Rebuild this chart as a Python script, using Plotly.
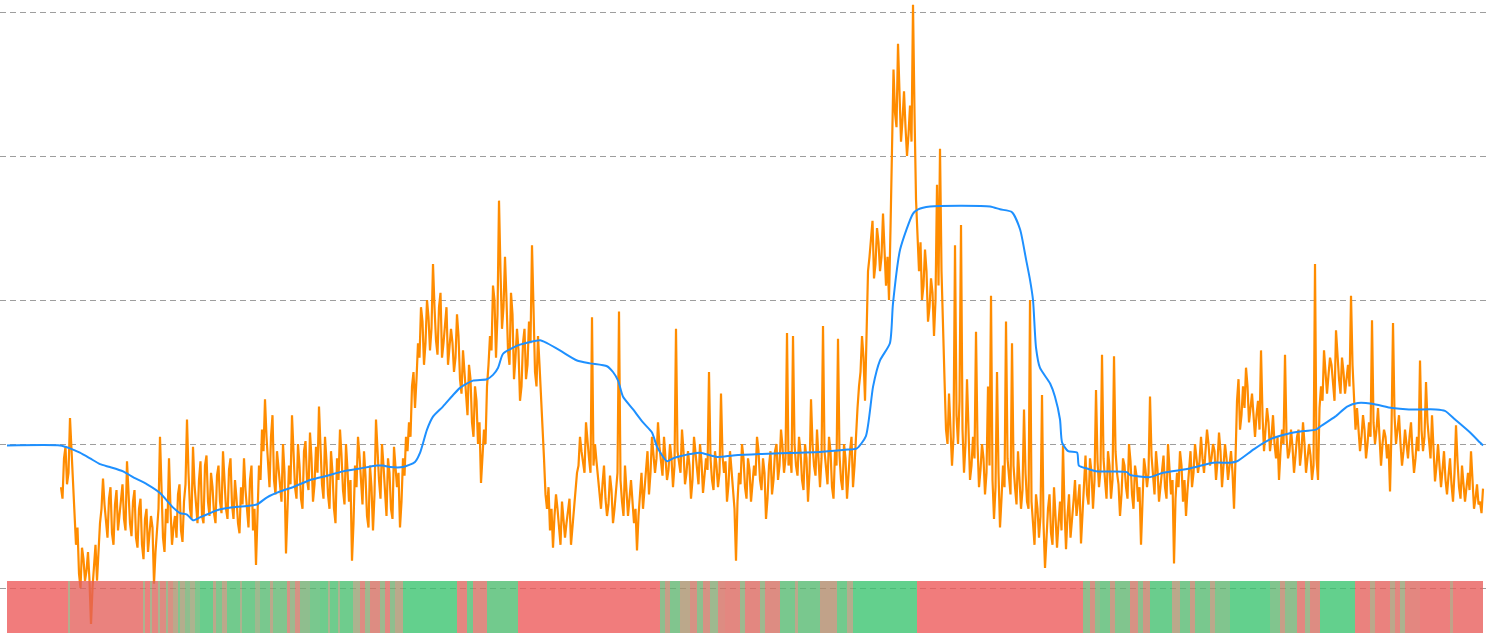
import plotly.graph_objects as go

# ---- data -------------------------------------------------------------
# orange series: one sample per whole step, starting at step 18
orange_start = 18
orange_vals = [
    0.70, 0.90, 0.72, 1.18, 0.70, 0.30, 0.10, 0.28, 0.05, 0.25,
    -0.25, 0.18, 0.05, 0.45, 0.76, 0.45, 0.62, 0.38, 0.58, 0.40,
    0.66, 0.48, 0.88, 0.45, 0.60, 0.35, 0.55, 0.30, 0.48, 0.25,
    0.50, 0.03, 0.38, 1.05, 0.35, 0.55, 0.90, 0.30, 0.50, 0.65,
    0.40, 0.60, 1.17, 0.55, 0.98, 0.55, 0.75, 0.50, 0.85, 0.60,
    0.80, 0.52, 0.78, 0.60, 0.95, 0.55, 0.82, 0.58, 0.75, 0.45,
    0.70, 0.90, 0.55, 0.75, 0.40, 0.16, 0.85, 1.10, 1.31, 0.85,
    1.05, 0.75, 0.95,
    # t91
    0.70, 1.00, 0.24, 0.85, 1.20, 0.70, 1.00, 0.62, 0.95, 0.75,
    1.08, 0.60, 0.98, 1.26, 0.72, 1.05, 0.65, 0.95, 0.55, 0.90,
    1.10, 0.68, 1.00, 0.60, 0.19, 0.85, 1.05, 0.70, 0.95, 0.50,
    0.85, 0.40, 1.17, 0.75, 1.00, 0.62, 0.90, 0.55, 0.98, 0.70,
    0.42, 0.90, 1.05,
    # t134
    1.15, 1.40, 1.25, 1.70, 1.95, 1.55, 2.00, 1.65, 2.25, 1.72,
    1.95, 1.60, 1.85, 1.55, 1.80, 1.50, 1.90, 1.45, 1.65, 1.30,
    1.55, 1.15, 1.40, 1.00, 0.73, 1.10, 1.40, 1.75, 2.10, 1.60,
    2.69, 1.80, 2.30, 1.65, 2.05, 1.45, 1.80, 1.30, 1.70, 1.45,
    1.85, 2.38, 1.50, 1.75, 1.35,
    # t179
    0.90, 0.55, 0.40, 0.28, 0.65, 0.40, 0.60, 0.35, 0.55, 0.30,
    0.50, 0.80, 1.05, 0.85, 1.15, 0.90, 1.88, 1.00, 0.75,
    # t198
    0.55, 0.85, 0.50, 0.78, 0.45, 0.70, 1.92, 0.60, 0.85, 0.50,
    0.75, 0.45, 0.26, 0.70, 0.55, 0.85, 0.65, 1.05, 0.80, 1.15,
    0.85, 1.05, 0.75, 1.00, 0.70, 1.80, 0.85, 1.10, 0.72, 0.95,
    0.62, 1.05, 0.80, 1.00, 0.66, 0.90, 1.50, 0.75, 0.95, 0.70,
    1.35, 0.80, 0.60, 0.95, 0.65, 0.19, 0.80, 1.00, 0.70, 0.90,
    0.60, 0.85, 1.05, 0.75, 0.90, 0.48, 0.85, 0.65, 0.95, 0.75,
    1.10, 0.80, 1.77, 0.95, 1.75, 0.85, 1.05, 0.75, 1.00, 0.60,
    1.31, 0.85, 1.10,
    # t271
    0.70, 1.82, 0.80, 1.05, 0.70, 0.95, 1.73, 0.75, 1.00, 0.62,
    0.95, 0.70, 1.10, 1.40, 1.75, 1.30, 2.20, 2.45, 2.15, 2.50,
    2.20, 2.60, 2.10, 2.00, 2.95, 3.30, 3.78, 3.10, 3.45, 3.00,
    3.35, 4.05, 2.70, 2.20, 2.00, 2.35, 1.85, 2.15, 1.75, 2.80,
    3.05, 1.70, 1.10, 1.35, 0.85, 2.38, 1.00, 2.52, 0.80, 1.45,
    0.75, 1.05, 1.78, 0.70, 1.00, 0.65, 1.40, 2.03, 0.48, 1.50,
    0.42, 0.85, 1.85, 0.75, 1.70, 0.70, 0.95, 0.55, 1.24, 0.60,
    2.00,
    # t342
    0.45, 0.65, 0.35, 1.34, 0.14, 0.55, 0.38, 0.70, 0.28, 0.60,
    0.99, 0.27, 0.65, 0.45, 0.75,
    # t357
    0.60, 0.31, 0.80, 0.65, 0.90, 0.55, 1.375, 0.70, 1.62, 0.75,
    0.95, 0.62, 1.61, 0.80, 0.50, 0.90, 0.70, 1.00, 0.65, 0.85,
    0.60, 0.30, 0.90, 0.70, 1.33, 0.75, 0.95, 0.60, 0.85, 0.70,
    1.00, 0.65, 0.17, 0.80, 0.95, 0.60, 0.50, 0.85, 0.70, 1.00,
    0.80,
    # t398
    1.05, 0.80, 1.10, 0.85, 1.00, 0.75, 1.08, 0.70, 1.00, 0.75,
    0.95, 0.55, 1.30, 1.10, 1.40, 1.53, 1.15, 1.35, 1.05, 1.30,
    1.65, 0.95, 1.25, 0.95, 1.20, 0.90, 0.75, 1.10, 1.62, 0.90,
    1.10, 0.80, 1.05, 0.85, 1.15, 0.80, 1.00, 0.75, 2.25, 0.75,
    # t438
    1.40, 1.65, 1.35, 1.60, 1.40, 1.79, 1.45, 1.60, 1.35, 1.55,
    2.03, 1.30, 1.25, 0.95, 1.20, 0.90, 1.15, 1.86, 1.00, 1.25,
    0.85, 1.10, 0.90, 0.67, 1.84, 1.00, 1.20, 0.85, 1.10, 0.90,
    1.15, 0.80, 1.05, 1.58, 0.95, 1.43, 1.00, 1.20, 0.74, 1.00,
    # t478
    0.70, 0.95, 0.65, 0.90, 0.60, 1.13, 0.70, 0.85, 0.60, 0.80,
    0.95, 0.55, 0.72, 0.60, 0.69,
]

# orange samples taken half-way between the whole steps, in blocks
mid_starts = [18, 91, 134, 179, 198, 271, 342, 357, 398, 438, 478]
mid_a = [0.62, 0.98, 0.80, 0.95, 0.50, 0.42, 0.00, 0.20, 0.12, 0.05,
         0.00, 0.30, 0.28, 0.55, 0.58, 0.35, 0.70, 0.30, 0.68, 0.52,
         0.72, 0.40, 0.62, 0.36, 0.68, 0.28, 0.62, 0.20, 0.55, 0.38,
         0.42, 0.25, 0.55, 0.60, 0.25, 0.45, 0.55, 0.42, 0.35, 0.72,
         0.32, 0.72, 0.80, 0.48, 0.72, 0.45, 0.88, 0.45, 0.92, 0.50,
         0.70, 0.45, 0.85, 0.52, 0.70, 0.48, 0.90, 0.48, 0.62, 0.38,
         0.58, 0.68, 0.42, 0.85, 0.55, 0.50, 0.75, 0.95, 1.05, 0.70,
         1.20, 0.65, 0.85]
mid_b = [0.60, 0.80, 0.55, 0.72, 0.95, 0.62, 0.85, 0.55, 1.02, 0.68,
         0.90, 0.72, 0.80, 0.98, 0.62, 0.88, 0.55, 0.80, 0.45, 0.75,
         0.92, 0.58, 0.82, 0.75, 0.45, 0.70, 0.92, 0.58, 0.78, 0.42,
         0.70, 0.65, 0.90, 0.62, 0.85, 0.50, 0.80, 0.48, 0.85, 0.80,
         0.60, 0.78, 0.95]
mid_c = [1.05, 1.50, 1.45, 1.60, 1.85, 1.70, 1.88, 1.80, 1.95, 1.62,
         2.05, 1.70, 1.95, 1.65, 1.70, 1.60, 1.75, 1.35, 1.50, 1.20,
         1.45, 1.05, 1.30, 1.15, 0.90, 1.00, 1.55, 1.65, 2.00, 1.90,
         2.20, 1.95, 2.00, 1.55, 1.90, 1.60, 1.65, 1.40, 1.80, 1.55,
         1.70, 1.95, 1.40, 1.55, 1.20]
mid_d = [0.65, 0.70, 0.55, 0.50, 0.55, 0.30, 0.50, 0.45, 0.62, 0.42,
         0.65, 0.85, 0.95, 0.80, 1.00, 0.80, 0.85, 0.88, 0.65]
mid_e = [0.72, 0.62, 0.58, 0.68, 0.55, 0.80, 0.75, 0.50, 0.70, 0.62,
         0.60, 0.55, 0.50, 0.80, 0.70, 0.95, 0.80, 0.92, 0.90, 0.98,
         0.78, 0.90, 0.82, 0.90, 0.85, 0.95, 0.80, 0.95, 0.80, 0.85,
         0.75, 0.95, 0.72, 0.88, 0.78, 0.82, 0.90, 0.68, 0.85, 0.80,
         0.92, 0.88, 0.72, 0.82, 0.55, 0.60, 0.72, 0.90, 0.62, 0.82,
         0.70, 0.78, 0.95, 0.68, 0.80, 0.62, 0.95, 0.75, 1.00, 0.85,
         0.98, 0.90, 0.85, 0.80, 1.00, 0.78, 0.95, 0.68, 0.90, 0.80,
         1.00, 0.78, 0.90]
mid_f = [0.90, 0.95, 0.72, 0.95, 0.62, 0.85, 0.92, 0.68, 0.90, 0.80,
         1.05, 0.85, 1.25, 1.50, 1.60, 1.85, 2.30, 2.55, 2.25, 2.40,
         2.30, 2.40, 2.30, 2.50, 3.60, 3.20, 3.40, 3.25, 3.20, 3.15,
         3.10, 3.30, 2.45, 2.40, 2.10, 2.20, 1.95, 2.05, 2.00, 2.10,
         2.20, 1.45, 1.00, 1.15, 1.05, 1.20, 1.30, 1.10, 1.00, 1.10,
         0.85, 0.90, 1.00, 0.82, 0.90, 0.80, 0.85, 0.75, 0.70, 0.80,
         0.62, 0.70, 0.90, 0.65, 0.85, 0.58, 0.75, 0.68, 0.80, 0.55,
         0.60]
mid_g = [0.30, 0.55, 0.50, 0.45, 0.40, 0.65, 0.30, 0.50, 0.45, 0.40,
         0.55, 0.50, 0.35, 0.60, 0.50]
mid_h = [0.72, 0.55, 0.92, 0.58, 0.80, 0.75, 0.88, 0.82, 0.90, 0.62,
         0.85, 0.75, 0.95, 0.72, 0.65, 0.85, 0.62, 0.88, 0.55, 0.78,
         0.70, 0.62, 0.82, 0.80, 0.92, 0.65, 0.82, 0.72, 0.92, 0.62,
         0.85, 0.75, 0.62, 0.70, 0.85, 0.75, 0.68, 0.95, 0.80, 0.92,
         0.88]
mid_i = [0.90, 0.95, 1.00, 0.90, 0.95, 0.88, 0.95, 0.85, 0.90, 0.85,
         0.80, 0.90, 1.45, 1.20, 1.25, 1.40, 1.25, 1.20, 1.20, 1.10,
         1.20, 1.10, 1.15, 1.05, 1.00, 1.05, 0.95, 1.00, 1.05, 0.95,
         0.98, 0.92, 1.10, 0.95, 1.00, 0.90, 0.92, 0.85, 0.90, 1.25]
mid_j = [1.30, 1.50, 1.48, 1.55, 1.30, 1.60, 1.35, 1.50, 1.45, 1.40,
         1.55, 1.10, 1.10, 1.05, 1.10, 1.00, 1.05, 1.15, 1.10, 1.05,
         1.00, 1.05, 1.00, 1.10, 1.20, 1.10, 1.00, 0.95, 1.00, 1.05,
         0.95, 0.90, 0.95, 1.10, 1.05, 1.15, 0.90, 1.00, 0.85, 0.85]
mid_k = [0.82, 0.75, 0.78, 0.72, 0.80, 0.88, 0.62, 0.72, 0.70, 0.68,
         0.75, 0.62, 0.58, 0.52]
mid_blocks = [mid_a, mid_b, mid_c, mid_d, mid_e, mid_f, mid_g, mid_h, mid_i, mid_j, mid_k]

# blue smoothed series (step, value)
blue_steps = [
    0, 17.7, 21, 24.3, 27.7, 31, 34.3, 38.7, 42, 46.7, 51, 55.3, 57.7, 60, 62,
    64.3, 67.7, 70, 75.3, 80, 83.3, 86.7, 91, 95.3, 101, 106.7, 112, 117.7,
    123.3, 125.3, 127.7, 132, 136, 137.7, 140, 142, 145.3, 148.7, 151, 155.3,
    160, 162, 163.7, 165.3, 168.7, 171, 177.7, 180, 184.3, 190, 194.3, 200,
    202, 203.7, 205.3, 208.7, 212, 215, 216.7, 220, 222, 227.7, 231, 236.7,
    242, 251, 264.3, 271, 279.3, 283.3, 286.3, 288.7, 291, 294.3, 295.3,
    297.7, 302, 303.7, 307.7, 327.7, 331, 335, 337.7, 339.7, 341, 342, 343,
    344.3, 347.7, 349.3, 351, 351.7, 353.7, 356.7, 357.3, 360, 363, 373.3,
    374.3, 381, 385.3, 394.3, 402, 407.7, 410, 415.7, 421.3, 426.7, 432.3,
    436.3, 438, 442.7, 446.7, 450.3, 455, 461.7, 467.3, 476.3, 479.3, 482.7,
    487.7, 491, 492,
]
blue_vals = [
    0.99, 0.99, 0.97, 0.94, 0.90, 0.86, 0.84, 0.81, 0.77, 0.72, 0.66, 0.56,
    0.52, 0.51, 0.47, 0.49, 0.52, 0.54, 0.56, 0.57, 0.58, 0.63, 0.67, 0.70,
    0.75, 0.78, 0.81, 0.83, 0.85, 0.85, 0.84, 0.84, 0.875, 0.94, 1.10, 1.19,
    1.26, 1.34, 1.39, 1.44, 1.45, 1.48, 1.53, 1.625, 1.67, 1.69, 1.72, 1.70,
    1.65, 1.58, 1.56, 1.54, 1.50, 1.44, 1.33, 1.24, 1.15, 1.08, 0.98, 0.88,
    0.90, 0.93, 0.94, 0.91, 0.92, 0.93, 0.94, 0.945, 0.96, 0.97, 1.055, 1.40,
    1.58, 1.70, 1.97, 2.35, 2.60, 2.63, 2.65, 2.65, 2.63, 2.61, 2.49, 2.28,
    2.14, 2.00, 1.67, 1.53, 1.42, 1.33, 1.17, 1.01, 0.95, 0.94, 0.85, 0.83,
    0.81, 0.805, 0.785, 0.77, 0.80, 0.83, 0.87, 0.87, 0.88, 0.965, 1.035,
    1.07, 1.09, 1.10, 1.125, 1.19, 1.26, 1.285, 1.28, 1.25, 1.24, 1.24, 1.23,
    1.17, 1.08, 1.01, 0.99,
]

# bottom signal strip: segment edges (steps) and state (0 = red, 1 = green)
strip_edges = [
    0, 20.3, 21, 45.3, 46, 47.7, 48.3, 50.3, 51, 53,
    53.7, 55.3, 57, 57.7, 59.3, 61, 62.7, 64.3, 68.7, 69.7,
    71.7, 73.3, 77.7, 78.3, 82.7, 84.3, 87.7, 88.7, 93.3, 94.3,
    96, 97.7, 101, 104.3, 107, 107.7, 110.3, 111, 115.3, 117.7,
    119.3, 121, 124.3, 126, 127.7, 129.3, 132, 150, 153.3, 155.3,
    160, 170.3, 217.7, 219.3, 221, 224.3, 227.7, 230, 232, 234.3,
    237, 239.3, 244.3, 246, 251, 252.7, 257.7, 262.7, 263.7, 271,
    276.7, 280, 282, 303.3, 358.7, 361, 362.7, 364.3, 367.7, 369.3,
    374.3, 377, 378.7, 381, 388.3, 391, 394.3, 396, 401, 402.7,
    407.7, 421, 424.3, 426, 430, 432.7, 434.3, 437.7, 449.3, 454.3,
    456, 461, 462.7, 464.3, 466, 471, 481, 482, 492,
]
strip_state = [
    0, 0.45, 0.05, 0.5, 0.05, 0.5, 0.1, 0.5, 0.15, 0.6,
    0.2, 0.4, 0.8, 0.45, 0.7, 0.5, 0.8, 0.95, 0.4, 0.8,
    0.4, 0.9, 0.5, 0.9, 0.6, 0.85, 0.4, 0.8, 0.2, 0.6,
    0.2, 0.7, 0.85, 0.92, 0.5, 0.92, 0.5, 0.92, 0.5, 0.15,
    0.6, 0.15, 0.6, 0.1, 0.7, 0.4, 1.0, 0.1, 0.9, 0.15,
    0.9, 0.0, 0.7, 0.3, 0.8, 0.4, 0.2, 0.7, 0.2, 0.6,
    0.15, 0.1, 0.6, 0.1, 0.6, 0.15, 0.85, 0.4, 0.85, 0.35,
    0.9, 0.45, 1.0, 0.0, 0.7, 0.2, 0.7, 0.85, 0.3, 0.8,
    0.2, 0.7, 0.25, 0.95, 0.4, 0.85, 0.3, 0.85, 0.4, 0.8,
    1.0, 0.8, 0.3, 0.7, 0.1, 0.6, 0.15, 1.0, 0.05, 0.4,
    0.05, 0.4, 0.1, 0.5, 0.1, 0.03, 0.35, 0.03,
]
strip_band = [-0.3125, 0.0486]

grid_levels = [0, 1, 2, 3, 4]

# ---- assemble orange points (whole steps + half steps) ------------------
pts = [(orange_start + i, v) for i, v in enumerate(orange_vals)]
for start, block in zip(mid_starts, mid_blocks):
    pts += [(start + i + 0.5, v) for i, v in enumerate(block)]
pts.sort()
orange_x = [p[0] for p in pts]
orange_y = [p[1] for p in pts]

n_seg = min(len(strip_state), len(strip_edges) - 1)
edges = strip_edges[:n_seg + 1]
states = strip_state[:n_seg]

# ---- figure -----------------------------------------------------------
fig = go.Figure()

fig.add_trace(go.Scatter(
    x=orange_x, y=orange_y, mode="lines",
    line=dict(color="#FF8C00", width=2.2), hoverinfo="skip", showlegend=False,
))
fig.add_trace(go.Scatter(
    x=blue_steps, y=blue_vals, mode="lines",
    line=dict(color="#1E90FF", width=2, shape="spline", smoothing=0.6),
    hoverinfo="skip", showlegend=False,
))
fig.add_trace(go.Heatmap(
    x=edges, y=strip_band, z=[states],
    zmin=0, zmax=1, showscale=False, opacity=0.78,
    colorscale=[[0, "rgb(238,88,88)"], [0.5, "rgb(150,158,112)"], [1, "rgb(56,196,110)"]],
    yaxis="y2", hoverinfo="skip",
))

yr = [-0.3125, 4.0833]
fig.update_layout(
    width=1490, height=633,
    margin=dict(l=0, r=3, t=0, b=0, pad=0),
    paper_bgcolor="white", plot_bgcolor="white",
    xaxis=dict(range=[-7 / 3, 493.33], visible=False, showgrid=False, zeroline=False),
    yaxis=dict(range=yr, tickvals=grid_levels, showticklabels=False, ticks="",
               showgrid=True, gridcolor="#9e9e9e", gridwidth=1, griddash="6px,4px",
               zeroline=False, showline=False),
    yaxis2=dict(range=yr, overlaying="y", visible=False, showgrid=False, zeroline=False),
    showlegend=False,
)

fig.write_html("out.html", post_script="document.body.style.margin='0';",
               config={"displayModeBar": False})
